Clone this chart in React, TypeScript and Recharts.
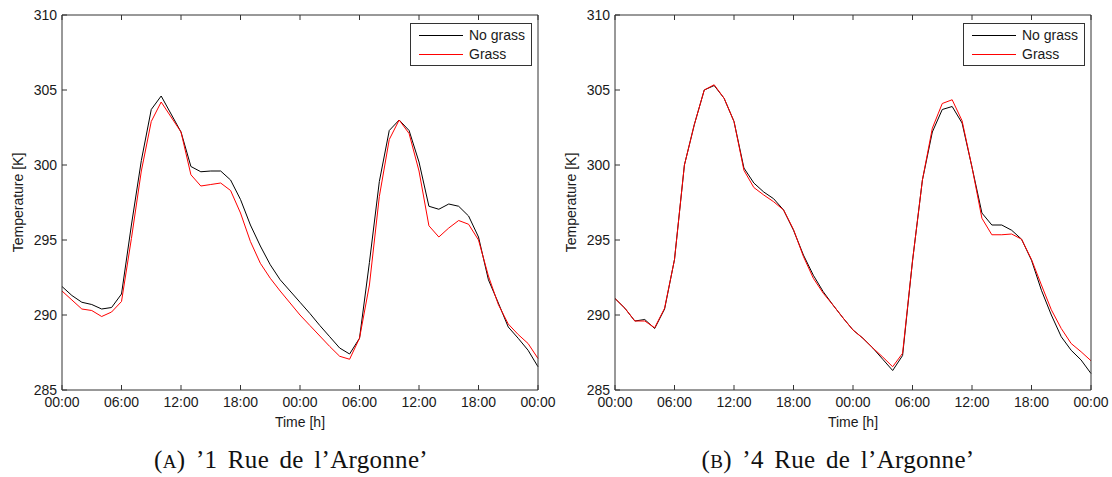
import React from 'react'
import { LineChart, Line, XAxis, YAxis, Legend } from 'recharts'

// hours since start of the 48 h run
const hours = [
  0, 1, 2, 3, 4, 5, 6, 7, 8, 9, 10, 11, 12, 13, 14, 15, 16, 17, 18, 19, 20, 21, 22, 23, 24,
  25, 26, 27, 28, 29, 30, 31, 32, 33, 34, 35, 36, 37, 38, 39, 40, 41, 42, 43, 44, 45, 46, 47, 48,
]
const hourTicks = [0, 6, 12, 18, 24, 30, 36, 42, 48]
const hourLabels = ['00:00', '06:00', '12:00', '18:00', '00:00', '06:00', '12:00', '18:00', '00:00']
const tempTicks = [285, 290, 295, 300, 305, 310]
const legendOrder = ['No grass', 'Grass']

// (A) '1 Rue de l'Argonne'
const noGrassA = [
  291.9, 291.3, 290.85, 290.7, 290.4, 290.5, 291.4, 296.0, 300.3, 303.7, 304.6, 303.4, 302.2,
  299.9, 299.55, 299.6, 299.6, 299.0, 297.7, 296.0, 294.6, 293.35, 292.35, 291.6, 290.85,
  290.1, 289.3, 288.55, 287.8, 287.4, 288.45, 293.5, 298.9, 302.3, 303.0, 302.3, 300.2,
  297.25, 297.05, 297.4, 297.25, 296.6, 295.2, 292.35, 290.8, 289.2, 288.45, 287.65, 286.55,
]
const grassA = [
  291.6, 291.0, 290.4, 290.3, 289.9, 290.2, 290.9, 295.1, 299.6, 302.9, 304.2, 303.2, 302.2,
  299.35, 298.6, 298.7, 298.8, 298.3, 296.8, 294.9, 293.45, 292.45, 291.6, 290.8, 290.0,
  289.3, 288.6, 287.9, 287.25, 287.05, 288.45, 292.0, 297.9, 301.7, 303.0, 302.1, 299.6,
  295.95, 295.2, 295.8, 296.3, 296.05, 295.0, 292.6, 290.7, 289.4, 288.7, 288.1, 287.1,
]

// (B) '4 Rue de l'Argonne'
const noGrassB = [
  291.1, 290.45, 289.6, 289.7, 289.1, 290.4, 293.7, 300.0, 302.7, 305.0, 305.3, 304.45, 302.9,
  299.8, 298.8, 298.2, 297.75, 297.0, 295.65, 294.0, 292.65, 291.55, 290.65, 289.8, 289.0,
  288.45, 287.8, 287.05, 286.3, 287.3, 293.6, 299.0, 302.2, 303.7, 303.9, 302.8, 299.85,
  296.8, 296.0, 296.0, 295.65, 295.05, 293.65, 291.65, 290.0, 288.55, 287.65, 287.0, 286.1,
]
const grassB = [
  291.1, 290.45, 289.6, 289.6, 289.15, 290.45, 293.7, 300.0, 302.7, 305.0, 305.35, 304.45, 302.9,
  299.65, 298.5, 298.0, 297.55, 297.0, 295.7, 293.9, 292.45, 291.45, 290.65, 289.8, 289.0,
  288.45, 287.8, 287.2, 286.55, 287.45, 293.6, 299.0, 302.45, 304.1, 304.35, 302.95, 299.85,
  296.45, 295.35, 295.35, 295.4, 295.05, 293.7, 292.0, 290.35, 289.1, 288.1, 287.55, 286.95,
]

const axisColor = '#333'
const textColor = '#1a1a1a'
const sans = '"Liberation Sans", Arial, sans-serif'

function BoxLegend(props: any) {
  const items = [...(props.payload || [])].sort(
    (a: any, b: any) => legendOrder.indexOf(a.value) - legendOrder.indexOf(b.value)
  )
  return (
    <div
      style={{
        boxSizing: 'border-box',
        width: 122,
        height: 43,
        border: `1px solid ${axisColor}`,
        background: '#fff',
        paddingTop: 2,
        fontFamily: sans,
        fontSize: 14,
        color: textColor,
      }}
    >
      {items.map((it: any) => (
        <div key={it.value} style={{ display: 'flex', alignItems: 'center', height: 19 }}>
          <svg width={58} height={19} style={{ display: 'block' }}>
            <line x1={8} x2={52} y1={9.5} y2={9.5} stroke={it.color} strokeWidth={1} />
          </svg>
          <span style={{ lineHeight: '19px' }}>{it.value}</span>
        </div>
      ))}
    </div>
  )
}

function Panel({ noGrass, grass }: { noGrass: number[]; grass: number[] }) {
  const data = hours.map((h, i) => ({ h, noGrass: noGrass[i], grass: grass[i] }))
  const tickStyle = { fontSize: 14, fill: textColor, fontFamily: sans }
  return (
    <LineChart width={560} height={430} data={data} margin={{ top: 14, right: 21, bottom: 0, left: 12 }}>
      <XAxis
        dataKey="h"
        type="number"
        domain={[0, 48]}
        ticks={hourTicks}
        interval={0}
        tickFormatter={(v: number) => hourLabels[hourTicks.indexOf(v)]}
        tick={tickStyle}
        stroke={axisColor}
        tickSize={-5}
        tickMargin={12}
        height={40}
        label={{ value: 'Time [h]', position: 'insideBottom', offset: 3, fontSize: 14, fill: textColor, fontFamily: sans }}
      />
      <XAxis
        xAxisId="top"
        orientation="top"
        dataKey="h"
        type="number"
        domain={[0, 48]}
        ticks={hourTicks}
        interval={0}
        tickFormatter={() => ''}
        stroke={axisColor}
        tickSize={-5}
        height={1}
      />
      <YAxis
        type="number"
        domain={[285, 310]}
        ticks={tempTicks}
        interval={0}
        allowDataOverflow
        tick={tickStyle}
        stroke={axisColor}
        tickSize={-5}
        tickMargin={10}
        width={50}
        label={{
          value: 'Temperature [K]',
          angle: -90,
          position: 'insideLeft',
          offset: 6,
          fontSize: 14,
          fill: textColor,
          fontFamily: sans,
          style: { textAnchor: 'middle' },
        }}
      />
      <YAxis
        yAxisId="right"
        orientation="right"
        type="number"
        domain={[285, 310]}
        ticks={tempTicks}
        interval={0}
        tickFormatter={() => ''}
        stroke={axisColor}
        tickSize={-5}
        width={1}
      />
      <Legend
        layout="vertical"
        verticalAlign="middle"
        align="center"
        content={BoxLegend}
        wrapperStyle={{ top: 23, left: 410, width: 122, height: 43 }}
      />
      <Line type="linear" dataKey="noGrass" name="No grass" stroke="#000" strokeWidth={1} dot={false} isAnimationActive={false} />
      <Line type="linear" dataKey="grass" name="Grass" stroke="#ff0000" strokeWidth={1} dot={false} isAnimationActive={false} />
    </LineChart>
  )
}

const captionStyle: React.CSSProperties = {
  position: 'absolute',
  top: 446,
  width: 400,
  textAlign: 'center',
  fontFamily: '"Liberation Serif", "Times New Roman", serif',
  fontSize: 25,
  lineHeight: '28px',
  letterSpacing: 0.3,
  wordSpacing: 4,
  color: '#111',
}

export default function App() {
  return (
    <div style={{ position: 'absolute', left: 0, top: 0, width: 1112, height: 477, background: '#fff' }}>
      <div style={{ position: 'absolute', left: 0, top: 0 }}>
        <Panel noGrass={noGrassA} grass={grassA} />
      </div>
      <div style={{ position: 'absolute', left: 553, top: 0 }}>
        <Panel noGrass={noGrassB} grass={grassB} />
      </div>
      <div style={{ ...captionStyle, left: 291 - 200 }}>
        (<span style={{ fontSize: 19 }}>A</span>) ’1 Rue de l’Argonne’
      </div>
      <div style={{ ...captionStyle, left: 838 - 200 }}>
        (<span style={{ fontSize: 19 }}>B</span>) ’4 Rue de l’Argonne’
      </div>
    </div>
  )
}
